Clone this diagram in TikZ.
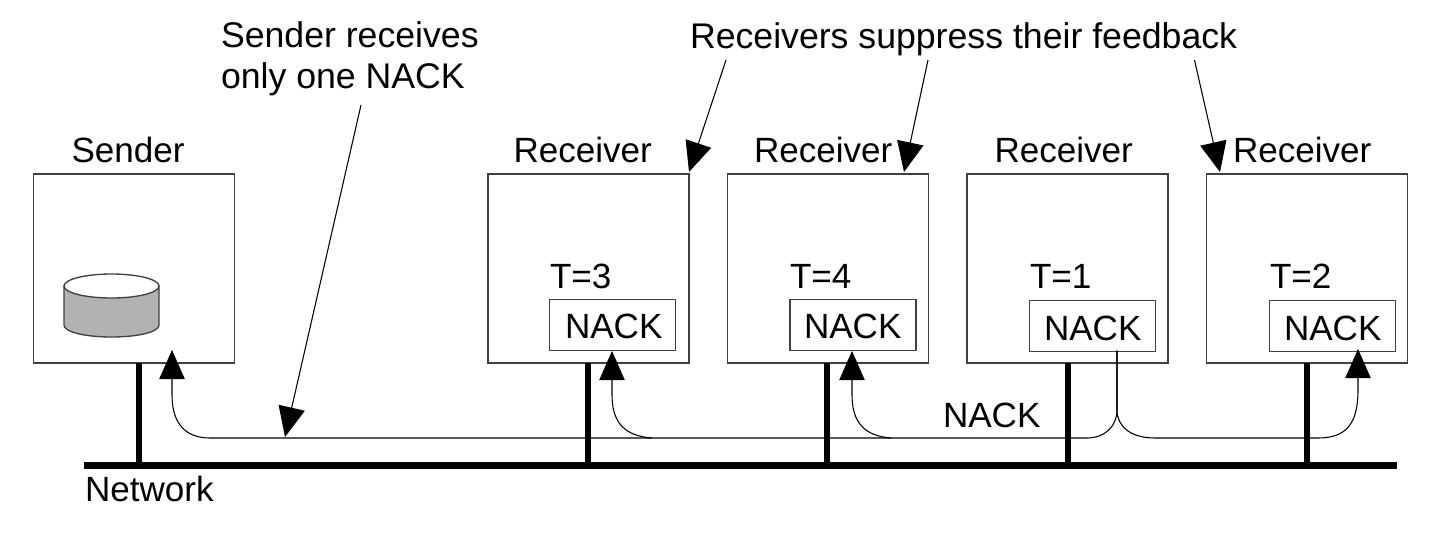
\documentclass[tikz,border=0pt]{standalone}
\usepackage{fontspec}
\setmainfont{Liberation Sans}
\usetikzlibrary{arrows.meta}
\tikzset{
  lbl/.style={anchor=base west,inner sep=0pt,outer sep=0pt,font=\fontsize{26.3}{30}\selectfont},
  toplbl/.style={lbl,font=\fontsize{26.75}{30}\selectfont},
  hostbox/.style={draw=black!75,line width=1pt,anchor=north west,inner sep=0pt,outer sep=0pt,minimum width=150.75pt,minimum height=141.75pt},
  nackbox/.style={draw=black!75,line width=1pt,anchor=north west,inner sep=0pt,outer sep=0pt,minimum width=94.5pt,minimum height=38.25pt},
  drop/.style={line width=4.7pt,black},
  bus/.style={line width=5.2pt,black},
  flow/.style={line width=.8pt,black,-{Triangle[length=21.75pt,width=19pt]}},
  callout/.style={line width=.8pt,black,-{Triangle[length=22.5pt,width=20pt]}},
}
\begin{document}
\begin{tikzpicture}[x=.75pt,y=-.75pt]
\useasboundingbox (0,0) rectangle (1440,533);
\fill[white] (0,0) rectangle (1440,533);
% hosts
\node[hostbox] (sender) at (33.5,174) {};
\node[hostbox] (r1) at (488,174) {};
\node[hostbox] (r2) at (727.5,174) {};
\node[hostbox] (r3) at (967,174) {};
\node[hostbox] (r4) at (1206.5,174) {};
% NACK boxes
\node[nackbox] (n1) at (549.5,299.5) {};
\node[nackbox] (n2) at (790,299.5) {};
\node[nackbox] (n3) at (1029.5,300.5) {};
\node[nackbox] (n4) at (1269.5,300.5) {};
% titles
\node[lbl] (ts) at (71.5,162) {Sender};
\node[lbl] (t1) at (513.5,162) {Receiver};
\node[lbl] (t2) at (754,162) {Receiver};
\node[lbl] (t3) at (994.5,162) {Receiver};
\node[lbl] (t4) at (1233,162) {Receiver};
\node[lbl] (c1) at (550,288) {T=3};
\node[lbl] (c2) at (790,288) {T=4};
\node[lbl] (c3) at (1030,288) {T=1};
\node[lbl] (c4) at (1270,288) {T=2};
\node[lbl] (l1) at (565,338) {NACK};
\node[lbl] (l2) at (804,338) {NACK};
\node[lbl] (l3) at (1044,340) {NACK};
\node[lbl] (l4) at (1284,340) {NACK};
\node[lbl] (lm) at (943,427) {NACK};
\node[lbl] (net) at (85,501) {Network};
\node[toplbl] (a1) at (221,47) {Sender receives};
\node[toplbl] (a2) at (221,88) {only one NACK};
\node[toplbl] (a3) at (690,48) {Receivers suppress their feedback};
% disk
\path[fill=black!30,draw=black!75,line width=1pt] (64,286) -- (64,325) .. controls (64,332) and (85,337) .. (111.5,337) .. controls (138,337) and (159,332) .. (159,325) -- (159,286) -- cycle;
\draw[fill=white,draw=black!75,line width=1pt] (111.5,286) ellipse [x radius=47.5,y radius=12];
% network
\coordinate (busL) at (84,465.5);
\coordinate (busR) at (1397,465.5);
\draw[bus] (busL) -- (busR);
\foreach \h/\x in {sender/139,r1/588,r2/827,r3/1068,r4/1307}{
  \draw[drop] (\h.south -| \x,0) -- (busL -| \x,0);
}
% NACK flows
\coordinate (tipS) at (172,350);
\coordinate (tip1) at (612,351);
\coordinate (tip2) at (852,351);
\coordinate (tip4) at (1358,349);
\coordinate (srcN) at (1117,350.5);
\coordinate (b1) at (652,438);
\coordinate (b2) at (891,438);
\draw[flow] (srcN) -- (1117,410) .. controls (1117,426) and (1105,438) .. (1087,438) -- (210,438) .. controls (186,438) and (172,424) .. (172,395) -- (tipS);
\draw[flow] (srcN) -- (1117,410) .. controls (1117,426) and (1130,438) .. (1155,438) -- (1318,438) .. controls (1346,438) and (1358,424) .. (1358,390) -- (tip4);
\draw[flow] (b1) .. controls (626,436) and (612,424) .. (612,395) -- (tip1);
\draw[flow] (b2) .. controls (866,436) and (852,424) .. (852,395) -- (tip2);
% callouts
\coordinate (f0) at (361,105);
\coordinate (h0) at (285,437);
\coordinate (f1) at (726,60);
\coordinate (h1) at (689,172);
\coordinate (f2) at (928,60);
\coordinate (h2) at (904,172);
\coordinate (f3) at (1194.5,60);
\coordinate (h3) at (1220,172);
\draw[callout] (f0) -- (h0);
\draw[callout] (f1) -- (h1);
\draw[callout] (f2) -- (h2);
\draw[callout] (f3) -- (h3);
\end{tikzpicture}
\end{document}
